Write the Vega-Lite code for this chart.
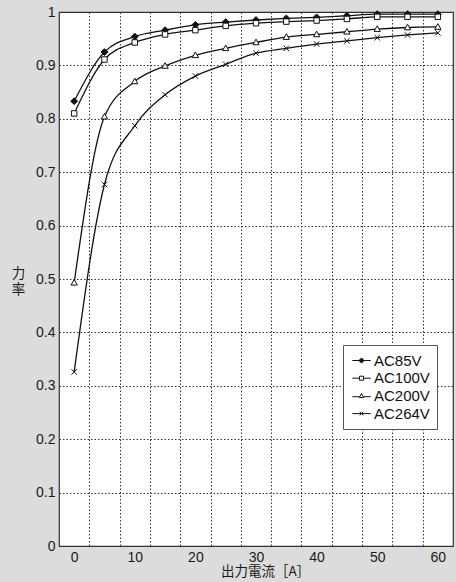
{
  "$schema": "https://vega.github.io/schema/vega-lite/v6.json",
  "width": 394,
  "height": 534,
  "autosize": {"type": "none"},
  "padding": {"left": 59, "top": 12, "right": 3, "bottom": 36},
  "background": "#dcdcdc",
  "config": {
    "view": {"fill": "white", "stroke": "#333333", "strokeWidth": 1.2},
    "font": "Liberation Sans",
    "axis": {
      "labelFont": "Liberation Sans",
      "labelFontSize": 14,
      "labelColor": "#1a1a1a",
      "titleFont": "Noto Sans CJK JP",
      "titleFontWeight": "normal",
      "titleFontSize": 13.5,
      "titleColor": "#1a1a1a",
      "gridColor": "#333333",
      "gridDash": [1.5, 2],
      "gridWidth": 1,
      "gridOpacity": 1,
      "domain": false,
      "ticks": false
    },
    "legend": {
      "orient": "none",
      "legendX": 284,
      "legendY": 333,
      "fillColor": "white",
      "strokeColor": "#555555",
      "padding": 7,
      "rowPadding": 0.7,
      "symbolSize": 256,
      "symbolOffset": 3,
      "labelOffset": 4,
      "labelFont": "Liberation Sans",
      "labelFontSize": 15,
      "labelColor": "#111111"
    }
  },
  "data": {
    "values": [
      {"series": "AC85V", "x": 0, "y": 0.833},
      {"series": "AC85V", "x": 5, "y": 0.925},
      {"series": "AC85V", "x": 10, "y": 0.954},
      {"series": "AC85V", "x": 15, "y": 0.966},
      {"series": "AC85V", "x": 20, "y": 0.976},
      {"series": "AC85V", "x": 25, "y": 0.981},
      {"series": "AC85V", "x": 30, "y": 0.985},
      {"series": "AC85V", "x": 35, "y": 0.988},
      {"series": "AC85V", "x": 40, "y": 0.99},
      {"series": "AC85V", "x": 45, "y": 0.993},
      {"series": "AC85V", "x": 50, "y": 0.996},
      {"series": "AC85V", "x": 55, "y": 0.996},
      {"series": "AC85V", "x": 60, "y": 0.996},
      {"series": "AC100V", "x": 0, "y": 0.81},
      {"series": "AC100V", "x": 5, "y": 0.911},
      {"series": "AC100V", "x": 10, "y": 0.943},
      {"series": "AC100V", "x": 15, "y": 0.958},
      {"series": "AC100V", "x": 20, "y": 0.966},
      {"series": "AC100V", "x": 25, "y": 0.974},
      {"series": "AC100V", "x": 30, "y": 0.979},
      {"series": "AC100V", "x": 35, "y": 0.982},
      {"series": "AC100V", "x": 40, "y": 0.984},
      {"series": "AC100V", "x": 45, "y": 0.987},
      {"series": "AC100V", "x": 50, "y": 0.991},
      {"series": "AC100V", "x": 55, "y": 0.991},
      {"series": "AC100V", "x": 60, "y": 0.991},
      {"series": "AC200V", "x": 0, "y": 0.493},
      {"series": "AC200V", "x": 5, "y": 0.804},
      {"series": "AC200V", "x": 10, "y": 0.87},
      {"series": "AC200V", "x": 15, "y": 0.899},
      {"series": "AC200V", "x": 20, "y": 0.919},
      {"series": "AC200V", "x": 25, "y": 0.932},
      {"series": "AC200V", "x": 30, "y": 0.943},
      {"series": "AC200V", "x": 35, "y": 0.953},
      {"series": "AC200V", "x": 40, "y": 0.958},
      {"series": "AC200V", "x": 45, "y": 0.963},
      {"series": "AC200V", "x": 50, "y": 0.968},
      {"series": "AC200V", "x": 55, "y": 0.971},
      {"series": "AC200V", "x": 60, "y": 0.972},
      {"series": "AC264V", "x": 0, "y": 0.326},
      {"series": "AC264V", "x": 5, "y": 0.677},
      {"series": "AC264V", "x": 10, "y": 0.787},
      {"series": "AC264V", "x": 15, "y": 0.845},
      {"series": "AC264V", "x": 20, "y": 0.88},
      {"series": "AC264V", "x": 25, "y": 0.902},
      {"series": "AC264V", "x": 30, "y": 0.923},
      {"series": "AC264V", "x": 35, "y": 0.932},
      {"series": "AC264V", "x": 40, "y": 0.94},
      {"series": "AC264V", "x": 45, "y": 0.946},
      {"series": "AC264V", "x": 50, "y": 0.952},
      {"series": "AC264V", "x": 55, "y": 0.957},
      {"series": "AC264V", "x": 60, "y": 0.961}
    ]
  },
  "encoding": {
    "x": {
      "field": "x",
      "type": "quantitative",
      "scale": {"domain": [-2.5, 62.5], "nice": false, "zero": false},
      "axis": {
        "title": "出力電流［A］",
        "titleX": 206,
        "titleY": 25,
        "titleAlign": "center",
        "titleBaseline": "middle",
        "values": [0, 2.5, 7.5, 10, 12.5, 17.5, 20, 22.5, 27.5, 30, 32.5, 37.5, 40, 42.5, 47.5, 50, 52.5, 57.5, 60],
        "labelExpr": "datum.value % 10 === 0 ? datum.label : ''",
        "labelOverlap": false,
        "labelFlush": false,
        "labelPadding": 4,
        "gridOpacity": {"condition": {"test": "datum.value % 5 !== 0", "value": 1}, "value": 0}
      }
    },
    "y": {
      "field": "y",
      "type": "quantitative",
      "scale": {"domain": [0, 1], "nice": false},
      "axis": {
        "title": ["力", "率"],
        "titleAngle": 0,
        "titleAlign": "center",
        "titleBaseline": "middle",
        "titleLineHeight": 16,
        "titleX": -41,
        "titleY": 261,
        "values": [0, 0.1, 0.2, 0.3, 0.4, 0.5, 0.6, 0.7, 0.8, 0.9, 1],
        "format": "~g",
        "labelPadding": 4,
        "labelFlush": false
      }
    }
  },
  "layer": [
    {
      "mark": {"type": "line", "interpolate": "monotone", "color": "#111111", "strokeWidth": 1.3},
      "encoding": {"detail": {"field": "series", "type": "nominal"}}
    },
    {
      "mark": {"type": "point", "filled": false, "size": 30, "stroke": "#111111", "strokeWidth": 1, "opacity": 1},
      "encoding": {
        "shape": {
          "field": "series",
          "type": "nominal",
          "sort": ["AC85V", "AC100V", "AC200V", "AC264V"],
          "scale": {
            "range": ["M0,-1.25L1.25,0L0,1.25L-1.25,0Z", "M-1,-1H1V1H-1Z", "M0,-1.2L1.15,0.85H-1.15Z", "M-1,-1L1,1M-1,1L1,-1"]
          },
          "legend": null
        },
        "fill": {
          "field": "series",
          "type": "nominal",
          "sort": ["AC85V", "AC100V", "AC200V", "AC264V"],
          "scale": {"domain": ["AC85V", "AC100V", "AC200V", "AC264V"], "range": ["#111111", "white", "white", "white"]},
          "legend": {
            "title": null,
            "symbolType": {"expr": "datum.value === 'AC85V' ? 'M-1.15,0H1.15M0,-0.32L0.32,0L0,0.32L-0.32,0Z' : datum.value === 'AC100V' ? 'M-1.15,0H-0.25M0.25,0H1.15M-0.25,-0.25H0.25V0.25H-0.25Z' : datum.value === 'AC200V' ? 'M-1.15,0.1H-0.28M0.28,0.1H1.15M0,-0.3L0.28,0.2H-0.28Z' : 'M-1.15,0H1.15M-0.22,-0.22L0.22,0.22M-0.22,0.22L0.22,-0.22'"},
            "symbolStrokeColor": "#111111",
            "symbolStrokeWidth": 1,
            "encode": {
              "symbols": {
                "size": {"value": 256},
                "stroke": {"value": "#111111"},
                "strokeWidth": {"value": 1}
              }
            }
          }
        }
      }
    }
  ]
}
